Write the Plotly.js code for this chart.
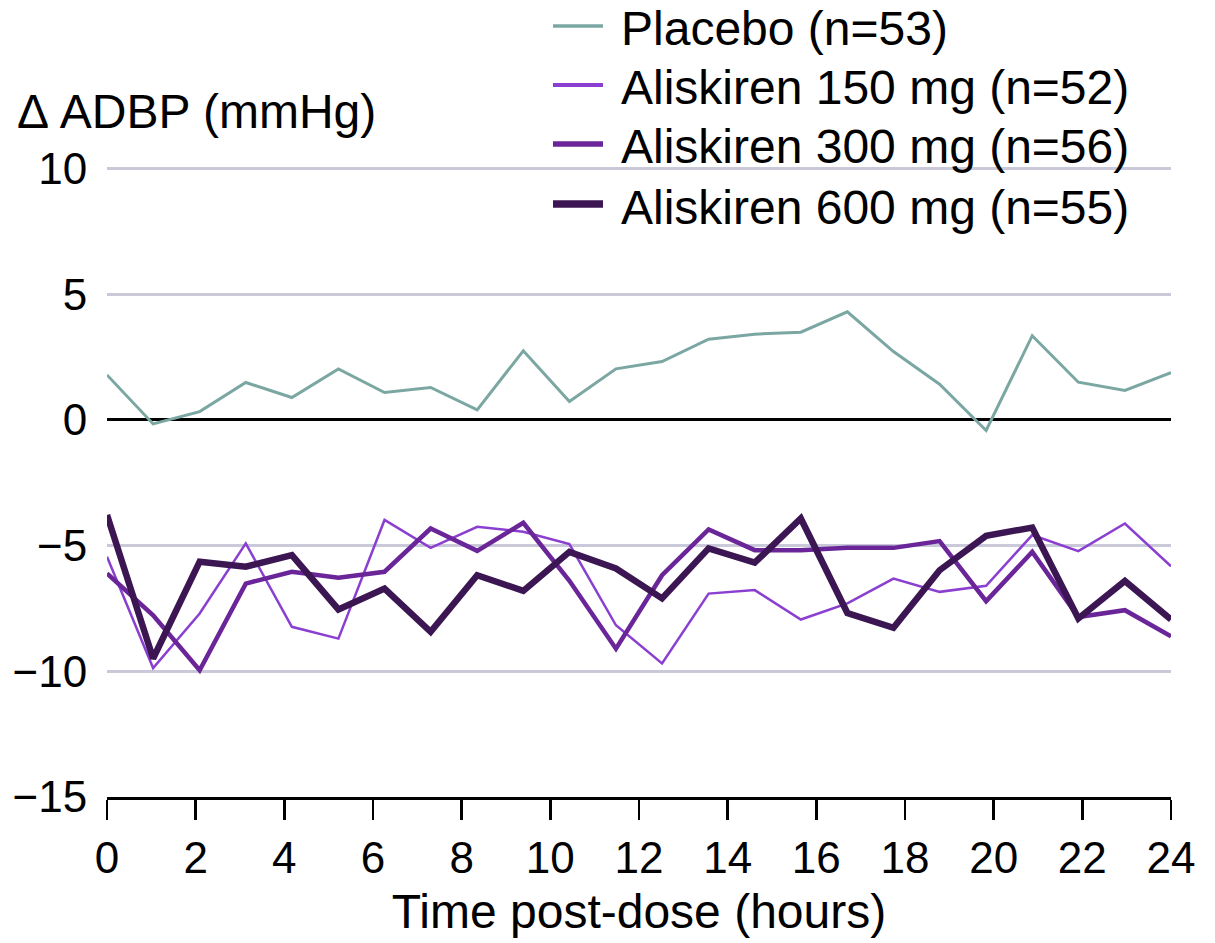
<!DOCTYPE html>
<html>
<head>
<meta charset="utf-8">
<script src="https://cdn.plot.ly/plotly-3.0.1.min.js"></script>
<style>html,body{margin:0;padding:0;background:#fff;}#chart{width:1215px;height:943px;}</style>
</head>
<body>
<div id="chart"></div>
<script>
// Time post-dose (hours)
const hours = [0, 1.04, 2.09, 3.13, 4.17, 5.22, 6.26, 7.30, 8.35, 9.39, 10.43, 11.48,
               12.52, 13.57, 14.61, 15.65, 16.70, 17.74, 18.78, 19.83, 20.87, 21.91, 22.96, 24];
// Δ ADBP (mmHg)
const placebo = [1.79, -0.16, 0.33, 1.49, 0.89, 2.03, 1.09, 1.29, 0.40, 2.75, 0.73, 2.03,
                 2.32, 3.21, 3.41, 3.49, 4.30, 2.72, 1.42, -0.42, 3.35, 1.50, 1.17, 1.88];
const aliskiren150 = [-5.44, -9.87, -7.70, -4.91, -8.23, -8.70, -3.98, -5.09, -4.25, -4.45, -4.94, -8.17,
                      -9.69, -6.91, -6.77, -7.94, -7.30, -6.31, -6.84, -6.60, -4.58, -5.22, -4.12, -5.82];
const aliskiren300 = [-6.11, -7.77, -9.96, -6.51, -6.04, -6.28, -6.04, -4.32, -5.21, -4.09, -6.40, -9.10,
                      -6.18, -4.36, -5.18, -5.18, -5.09, -5.09, -4.82, -7.21, -5.25, -7.84, -7.57, -8.61];
const aliskiren600 = [-3.78, -9.49, -5.64, -5.84, -5.38, -7.54, -6.71, -8.43, -6.18, -6.80, -5.25, -5.91,
                      -7.10, -5.11, -5.68, -3.92, -7.68, -8.27, -5.98, -4.61, -4.28, -7.90, -6.41, -7.94];
const seriesNames = ['Placebo (n=53)', 'Aliskiren 150 mg (n=52)', 'Aliskiren 300 mg (n=56)', 'Aliskiren 600 mg (n=55)'];
const xTicks = [0, 2, 4, 6, 8, 10, 12, 14, 16, 18, 20, 22, 24];
const yTicks = [-15, -10, -5, 0, 5, 10];

const colors = ['#7BA7A3', '#8A3FD1', '#6A2598', '#3C1652'];
const widths = [3, 2.5, 4.5, 6.5];
const legendWidths = [3.5, 4, 5.5, 7.5];
const ys = [placebo, aliskiren150, aliskiren300, aliskiren600];

const traces = ys.map((y, i) => ({
  type: 'scatter', mode: 'lines', x: hours, y: y, name: seriesNames[i],
  line: {color: colors[i], width: widths[i]}, showlegend: false
}));

const FONT = 'Liberation Sans, Arial, sans-serif';
const W = 1215, H = 943, ML = 107, MR = 44, MT = 166, MB = 146;
const PW = W - ML - MR, PH = H - MT - MB;
const px = v => (v - ML) / PW;      // pixel x -> paper
const py = v => (H - MB - v) / PH;  // pixel y -> paper

// Legend drawn as paper-positioned swatches + labels
const legendRows = [26, 85, 144, 204];
const shapes = [], annotations = [];
seriesNames.forEach((name, i) => {
  shapes.push({type: 'line', xref: 'paper', yref: 'paper',
    x0: px(553), x1: px(603), y0: py(legendRows[i]), y1: py(legendRows[i]),
    line: {color: colors[i], width: legendWidths[i]}});
  annotations.push({text: name, xref: 'paper', yref: 'paper',
    x: px(619), xanchor: 'left', y: py(legendRows[i] + 3), yanchor: 'middle',
    showarrow: false, font: {family: FONT, size: 48, color: '#000'}});
});
annotations.push({
  text: 'Δ ADBP (mmHg)', xref: 'paper', yref: 'paper',
  x: px(15), xanchor: 'left', y: py(111), yanchor: 'middle',
  showarrow: false, font: {family: FONT, size: 48, color: '#000'}
});

const layout = {
  width: W, height: H,
  margin: {l: ML, r: MR, t: MT, b: MB, autoexpand: false},
  paper_bgcolor: '#fff', plot_bgcolor: '#fff',
  font: {family: FONT, size: 44, color: '#000'},
  showlegend: false,
  xaxis: {
    range: [0, 24], tickvals: xTicks, ticktext: xTicks.map(String),
    showgrid: false, zeroline: false,
    showline: true, linecolor: '#000', linewidth: 3,
    ticks: 'outside', ticklen: 20, tickwidth: 2.5, tickcolor: '#000',
    tickfont: {family: FONT, size: 44, color: '#000'},
    title: {text: 'Time post-dose (hours)', font: {family: FONT, size: 48, color: '#000'}, standoff: 14},
    automargin: false
  },
  yaxis: {
    range: [-15, 10.1], tickvals: yTicks,
    showgrid: true, gridcolor: '#C9C9DA', gridwidth: 3,
    zeroline: true, zerolinecolor: '#000', zerolinewidth: 3,
    showline: false,
    ticks: 'outside', ticklen: 10, tickcolor: 'rgba(0,0,0,0)',
    tickfont: {family: FONT, size: 44, color: '#000'},
    automargin: false
  },
  shapes: shapes,
  annotations: annotations
};

Plotly.newPlot('chart', traces, layout, {staticPlot: true, displayModeBar: false});
</script>
</body>
</html>
